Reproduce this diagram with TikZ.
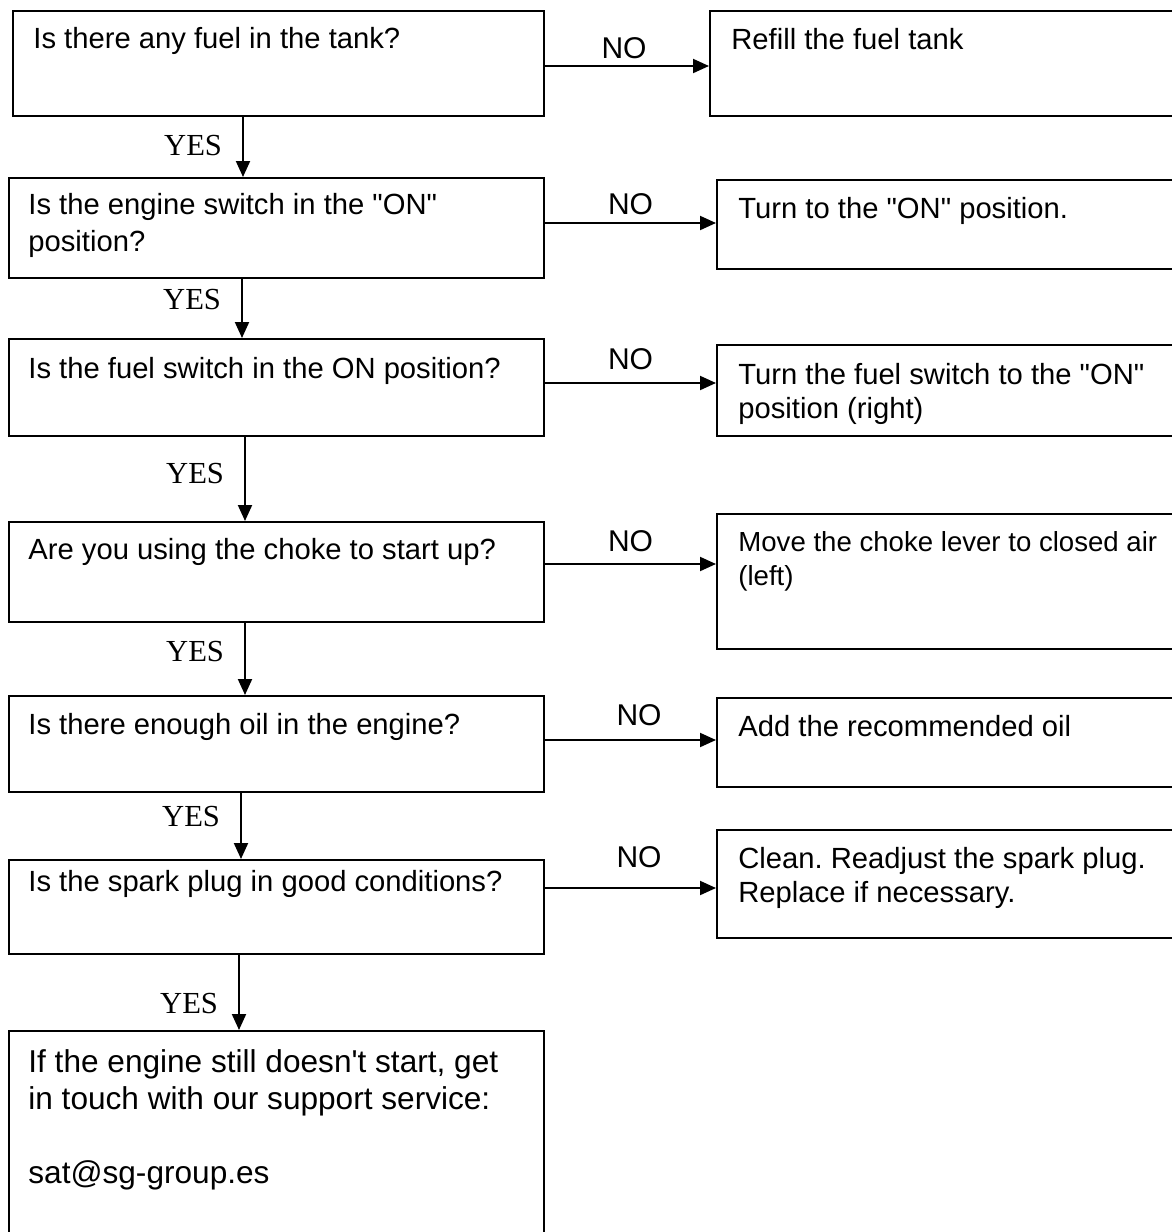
\documentclass[tikz,border=0pt]{standalone}
\usepackage{fontspec}
\setmainfont{Liberation Serif}
\newfontfamily\arialfont{Liberation Sans}
\usetikzlibrary{positioning,arrows.meta}
\frenchspacing

\begin{document}
\begin{tikzpicture}[x=0.5pt,y=-0.5pt,
    box/.style={draw,line width=1pt,inner sep=0pt,anchor=north west},
    boxtext/.style={inner sep=0pt,align=left,font=\arialfont\fontsize{14.6}{18.5}\selectfont},
    restext/.style={inner sep=0pt,align=left,font=\arialfont\fontsize{14.6}{17}\selectfont},
    arr/.style={line width=1pt,-{Triangle[length=8pt,width=7pt]}},
    yes/.style={inner sep=0pt,font=\fontsize{15.3}{15.3}\selectfont},
    no/.style={inner sep=0pt,font=\arialfont\fontsize{15}{15}\selectfont}]
    \useasboundingbox (0,0) rectangle (1172,1232);
    % questions
    \node[box,minimum width=265.5pt,minimum height=52.5pt] (q1) at (12,10) {};
    \node[box,minimum width=267.5pt,minimum height=50pt] (q2) at (8,177) {};
    \node[box,minimum width=267.5pt,minimum height=48.5pt] (q3) at (8,338) {};
    \node[box,minimum width=267.5pt,minimum height=50pt] (q4) at (8,521) {};
    \node[box,minimum width=267.5pt,minimum height=48pt] (q5) at (8,695) {};
    \node[box,minimum width=267.5pt,minimum height=47pt] (q6) at (8,859) {};
    \node[box,minimum width=267.5pt,minimum height=115pt] (q7) at (8,1030) {};
    \node[boxtext,below right=8.5pt and 10.5pt of q1.north west] (q1t) {Is there any fuel in the tank?};
    \node[boxtext,below right=8pt and 10pt of q2.north west] (q2t) {Is the engine switch in the "ON"\\position?};
    \node[boxtext,below right=9.5pt and 10pt of q3.north west] (q3t) {Is the fuel switch in the ON position?};
    \node[boxtext,below right=8.5pt and 10pt of q4.north west] (q4t) {Are you using the choke to start up?};
    \node[boxtext,below right=9pt and 10pt of q5.north west] (q5t) {Is there enough oil in the engine?};
    \node[boxtext,below right=5.5pt and 10pt of q6.north west] (q6t) {Is the spark plug in good conditions?};
    \node[boxtext,font=\arialfont\fontsize{15.8}{18.5}\selectfont,below right=9.7pt and 10pt of q7.north west] (q7t) {If the engine still doesn\textquotesingle t start, get\\in touch with our support service:\\[18.5pt]sat@sg-group.es};
    % answers
    \node[box,minimum width=245.5pt,minimum height=52.5pt] (a1) at (709,10) {};
    \node[box,minimum width=242pt,minimum height=44.5pt] (a2) at (716,179) {};
    \node[box,minimum width=242pt,minimum height=45.5pt] (a3) at (716,344) {};
    \node[box,minimum width=242pt,minimum height=67.5pt] (a4) at (716,513) {};
    \node[box,minimum width=242pt,minimum height=44.5pt] (a5) at (716,697) {};
    \node[box,minimum width=242pt,minimum height=54pt] (a6) at (716,829) {};
    \node[restext,below right=9pt and 11pt of a1.north west] (a1t) {Refill the fuel tank};
    \node[restext,below right=9pt and 11pt of a2.north west] (a2t) {Turn to the "ON" position.};
    \node[restext,below right=9.5pt and 11pt of a3.north west] (a3t) {Turn the fuel switch to the "ON"\\position (right)};
    \node[restext,font=\arialfont\fontsize{13.8}{17}\selectfont,below right=9pt and 11pt of a4.north west] (a4t) {Move the choke lever to closed air\\(left)};
    \node[restext,below right=9pt and 11pt of a5.north west] (a5t) {Add the recommended oil};
    \node[restext,below right=9pt and 11pt of a6.north west] (a6t) {Clean. Readjust the spark plug.\\Replace if necessary.};
    % NO branches
    \draw[arr] ([yshift=-1.25pt]q1.east) -- node[no,above=3pt,xshift=-1.5pt]{NO} ([yshift=-1.25pt]q1.east -| a1.west);
    \draw[arr] ([yshift=2.5pt]q2.east) -- node[no,above=3.5pt]{NO} ([yshift=2.5pt]q2.east -| a2.west);
    \draw[arr] ([yshift=2.25pt]q3.east) -- node[no,above=6pt]{NO} ([yshift=2.25pt]q3.east -| a3.west);
    \draw[arr] ([yshift=4pt]q4.east) -- node[no,above=5.5pt]{NO} ([yshift=4pt]q4.east -| a4.west);
    \draw[arr] ([yshift=2pt]q5.east) -- node[no,above=6.5pt,xshift=4.25pt]{NO} ([yshift=2pt]q5.east -| a5.west);
    \draw[arr] ([yshift=9.5pt]q6.east) -- node[no,above=9.5pt,xshift=4.25pt]{NO} ([yshift=9.5pt]q6.east -| a6.west);
    % YES branches
    \draw[arr] ([xshift=-17.75pt]q1.south) -- node[yes,pos=.48,left=10pt]{YES} ([xshift=-17.75pt]q1.south |- q2.north);
    \draw[arr] ([xshift=-17.25pt]q2.south) -- node[yes,pos=.34,left=10pt]{YES} ([xshift=-17.25pt]q2.south |- q3.north);
    \draw[arr] ([xshift=-15.75pt]q3.south) -- node[yes,pos=.43,left=10pt]{YES} ([xshift=-15.75pt]q3.south |- q4.north);
    \draw[arr] ([xshift=-15.75pt]q4.south) -- node[yes,pos=.39,left=10pt]{YES} ([xshift=-15.75pt]q4.south |- q5.north);
    \draw[arr] ([xshift=-17.75pt]q5.south) -- node[yes,pos=.35,left=10pt]{YES} ([xshift=-17.75pt]q5.south |- q6.north);
    \draw[arr] ([xshift=-18.75pt]q6.south) -- node[yes,pos=.65,left=10pt]{YES} ([xshift=-18.75pt]q6.south |- q7.north);
\end{tikzpicture}
\end{document}
